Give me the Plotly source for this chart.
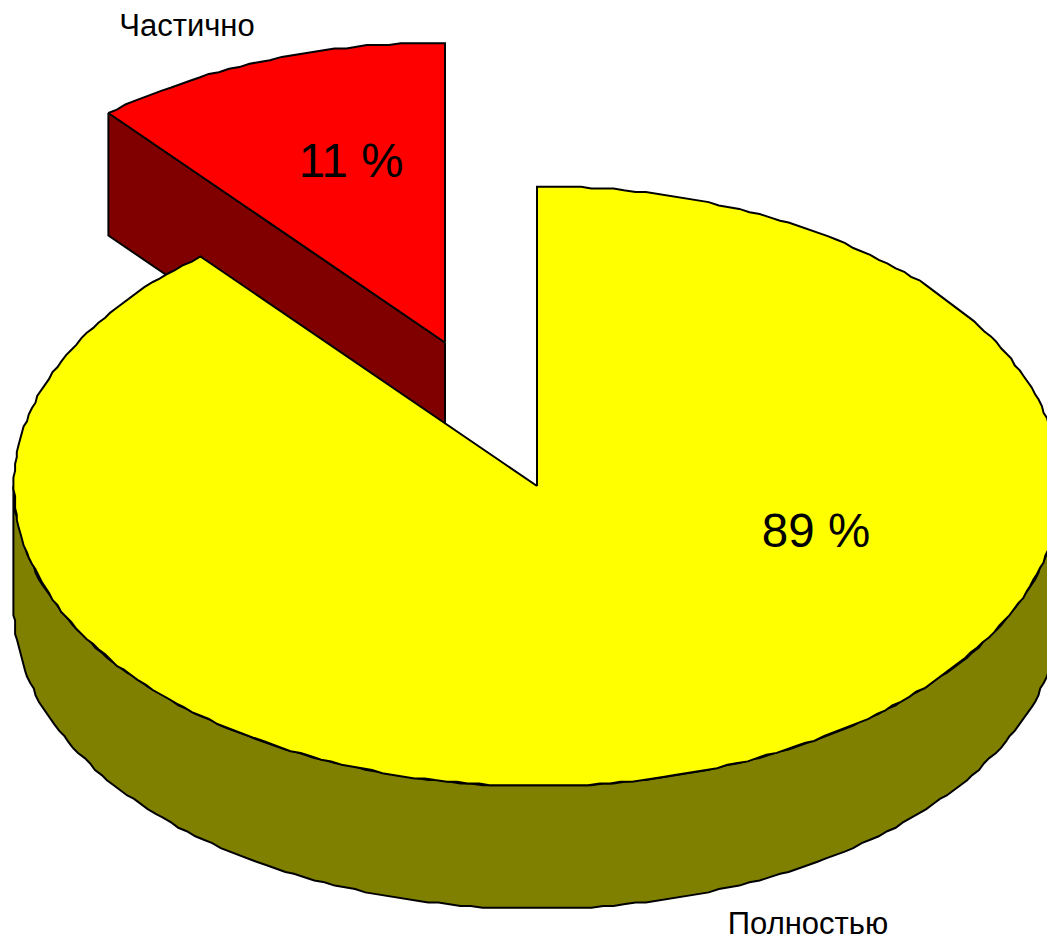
import numpy as np
import plotly.graph_objects as go

categories = ["Полностью", "Частично"]
shares = [88.85, 11.15]
share_labels = ["89 %", "11 %"]

W, H = 1047, 940
CX, CY, RX, RY, DEPTH = 537, 486, 523, 300, 122.5
EXPLODE = (-92, -143.5)
COL_TOP = ["#FFFF00", "#FF0000"]
COL_SIDE = ["#808000", "#800000"]
LINE = dict(color="#000000", width=2)
GRID = 1.7


def arc(a0, a1, cx, cy):
    n = max(int(abs(a1 - a0) / 1.2), 2)
    t = np.radians(np.linspace(a0, a1, n + 1))
    x = RX * np.sin(t)
    y = -RY * np.cos(t)
    return cx + np.round(x / GRID) * GRID, cy + np.round(y / GRID) * GRID


split = 360 * shares[0] / sum(shares)
fig = go.Figure()


def poly(x, y, color):
    fig.add_trace(go.Scatter(x=list(x), y=list(y), mode="lines", fill="toself",
                             fillcolor=color, line=LINE, hoverinfo="skip", showlegend=False))


# exploded slice: cut face, then top
rx0, ry0 = CX + EXPLODE[0], CY + EXPLODE[1]
ex, ey = arc(split, 360, rx0, ry0)
poly([rx0, ex[0], ex[0], rx0, rx0], [ry0, ey[0], ey[0] + DEPTH, ry0 + DEPTH, ry0], COL_SIDE[1])
poly(np.r_[rx0, ex, rx0], np.r_[ry0, ey, ry0], COL_TOP[1])

# main slice: rim, then top
ax, ay = arc(90, 270, CX, CY)
poly(np.r_[ax, ax[::-1], ax[0]], np.r_[ay, ay[::-1] + DEPTH, ay[0]], COL_SIDE[0])
mx, my = arc(0, split, CX, CY)
poly(np.r_[CX, mx, CX], np.r_[CY, my, CY], COL_TOP[0])

fig.add_trace(go.Scatter(
    x=[816, 351], y=[535, 165], mode="text", text=share_labels,
    textfont=dict(family="Liberation Sans", size=47.5, color="#000000"),
    textposition="middle center", hoverinfo="skip", showlegend=False))
fig.add_trace(go.Scatter(
    x=[808, 187], y=[926, 28], mode="text", text=categories,
    textfont=dict(family="Liberation Sans", size=31, color="#000000"),
    textposition="middle center", hoverinfo="skip", showlegend=False))

fig.update_layout(
    width=W, height=H, margin=dict(l=0, r=0, t=0, b=0),
    paper_bgcolor="#FFFFFF", plot_bgcolor="#FFFFFF",
    xaxis=dict(range=[0, W], visible=False, fixedrange=True),
    yaxis=dict(range=[H, 0], visible=False, fixedrange=True),
)
fig.write_html("out.html", config={"displayModeBar": False},
               post_script="document.body.style.margin='0';document.body.style.overflow='hidden';")
